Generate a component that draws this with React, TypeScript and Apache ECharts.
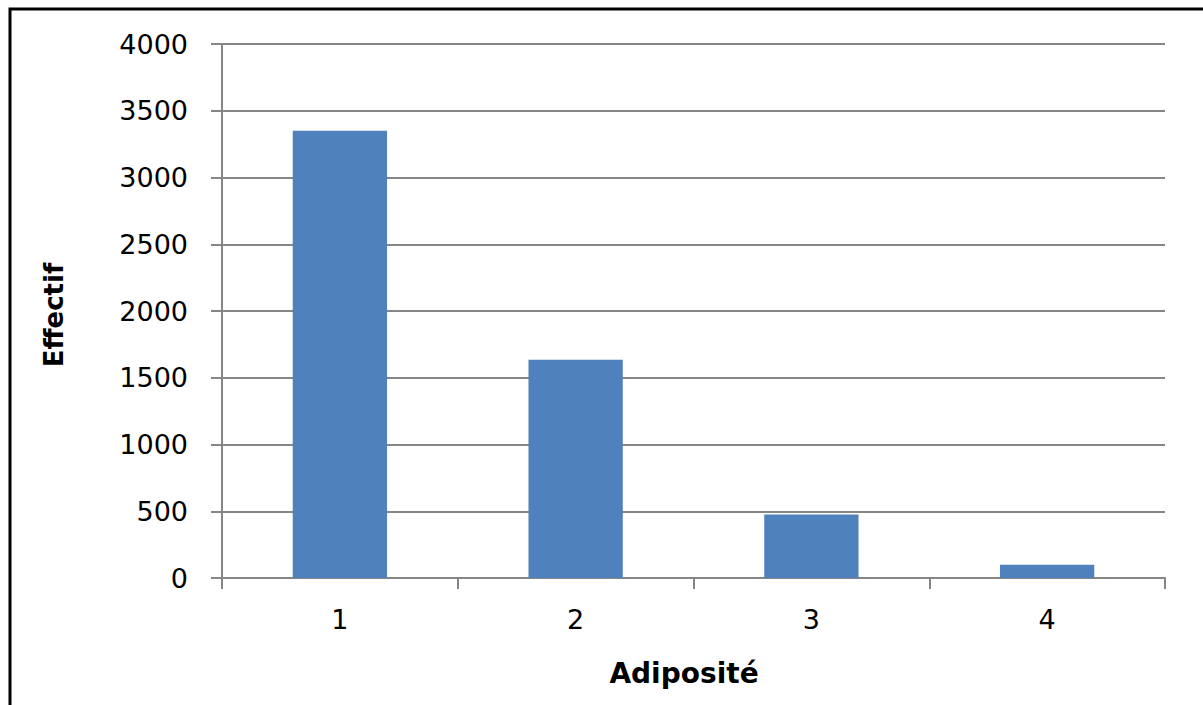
import React, { useEffect, useRef } from "react";
import * as echarts from "echarts";

const categories = ["1", "2", "3", "4"];
const values = [3350, 1635, 475, 100];
const yTicks = [0, 500, 1000, 1500, 2000, 2500, 3000, 3500, 4000];
const xTitle = "Adiposité";
const yTitle = "Effectif";

export default function App() {
  const ref = useRef<HTMLDivElement>(null);
  useEffect(() => {
    if (!ref.current) return;
    const chart = echarts.init(ref.current, null, { renderer: "svg" });
    const font = "'DejaVu Sans', sans-serif";
    chart.setOption({
      animation: false,
      backgroundColor: "#ffffff",
      grid: { left: 222, right: 38, top: 44, bottom: 127 },
      xAxis: {
        type: "category",
        data: categories,
        boundaryGap: true,
        axisLine: { show: true, lineStyle: { color: "#868686", width: 2 } },
        axisTick: { show: true, length: 11, lineStyle: { color: "#868686", width: 2 } },
        axisLabel: { color: "#000", fontFamily: font, fontSize: 27, margin: 28 },
        splitLine: { show: false },
      },
      yAxis: {
        type: "value",
        min: yTicks[0],
        max: yTicks[yTicks.length - 1],
        interval: 500,
        axisLine: { show: true, lineStyle: { color: "#868686", width: 2 } },
        axisTick: { show: true, length: 11, lineStyle: { color: "#868686", width: 2 } },
        axisLabel: {
          color: "#000",
          fontFamily: font,
          fontSize: 27,
          margin: 34,
          formatter: (v: number) => String(v),
        },
        splitLine: { show: true, lineStyle: { color: "#868686", width: 2 } },
      },
      series: [
        {
          type: "bar",
          data: values,
          barCategoryGap: "60%",
          itemStyle: { color: "#4F81BD" },
        },
      ],
      graphic: [
        {
          type: "rect",
          shape: { x: 10, y: 9, width: 1400, height: 900 },
          style: { fill: "none", stroke: "#000", lineWidth: 3 },
          silent: true,
        },
        {
          type: "text",
          x: 684,
          y: 673,
          style: {
            text: xTitle,
            fontFamily: font,
            fontWeight: "bold",
            fontSize: 28,
            fill: "#000",
            align: "center",
            verticalAlign: "middle",
          },
        },
        {
          type: "text",
          x: 54,
          y: 315,
          rotation: Math.PI / 2,
          style: {
            text: yTitle,
            fontFamily: font,
            fontWeight: "bold",
            fontSize: 26,
            fill: "#000",
            align: "center",
            verticalAlign: "middle",
          },
        },
      ],
    });
    return () => chart.dispose();
  }, []);
  return (
    <div
      ref={ref}
      style={{ position: "fixed", left: 0, top: 0, width: 1203, height: 705 }}
    />
  );
}
